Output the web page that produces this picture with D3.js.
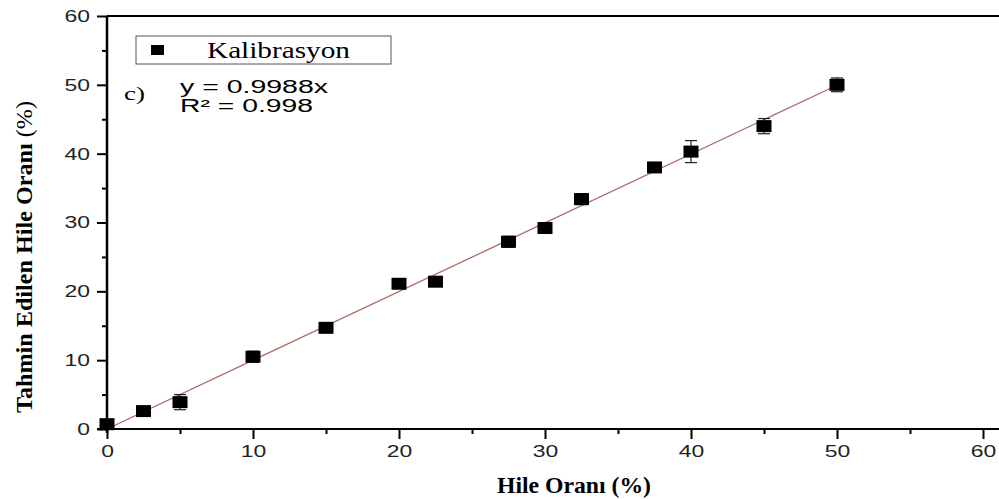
<!DOCTYPE html>
<html lang="tr">
<head>
<meta charset="utf-8">
<title>Kalibrasyon</title>
<script src="https://cdnjs.cloudflare.com/ajax/libs/d3/7.8.5/d3.min.js"></script>
<style>
  body { margin: 0; background: #fff; }
  .tick text { font-family: "Liberation Sans", Arial, sans-serif; font-size: 17px; fill: #222; }
  .axis path, .axis line { stroke: #000; }
  .serif { font-family: "Liberation Serif", "Times New Roman", serif; }
  .sans { font-family: "Liberation Sans", Arial, sans-serif; }
</style>
</head>
<body>
<svg width="999" height="499"></svg>
<script>
// data
var hile = [0, 2.5, 5, 10, 15, 20, 22.5, 27.5, 30, 32.5, 37.5, 40, 45, 50];
var tahmin = [0.7, 2.6, 3.9, 10.5, 14.7, 21.1, 21.4, 27.2, 29.2, 33.4, 38.0, 40.3, 44.0, 50.0];
var hata = [0.3, 0.3, 1.1, 0.8, 0.4, 0.3, 0.3, 0.8, 0.3, 0.8, 0.3, 1.6, 1.1, 1.0];
var xTicks = [0, 10, 20, 30, 40, 50, 60];
var yTicks = [0, 10, 20, 30, 40, 50, 60];
var slope = 0.9988;

// the original picture is stretched sideways, so text gets widened too
var stretch = 1.35;

var svg = d3.select("svg"),
    margin = {top: 16, right: 16, bottom: 70, left: 107},
    width = 983 - margin.left,
    height = 429 - margin.top;

var x = d3.scaleLinear().domain([0, 60]).range([0, width]),
    y = d3.scaleLinear().domain([0, 60]).range([height, 0]);

var g = svg.append("g")
    .attr("transform", "translate(" + margin.left + "," + margin.top + ")");

// frame (top line runs off to the right edge)
g.append("line").attr("x1", 0).attr("x2", 999 - margin.left)
  .attr("y1", 0).attr("y2", 0).attr("stroke", "#000").attr("stroke-width", 2);

// minor ticks
g.append("g")
  .attr("class", "axis")
  .attr("transform", "translate(0," + height + ")")
  .call(d3.axisBottom(x).tickValues(d3.range(5, 60, 10)).tickSize(5).tickFormat(""))
  .call(function(s) { s.select(".domain").remove(); })
  .selectAll("line").attr("stroke-width", 2);
g.append("g")
  .attr("class", "axis")
  .call(d3.axisLeft(y).tickValues(d3.range(5, 60, 10)).tickSize(5).tickFormat(""))
  .call(function(s) { s.select(".domain").remove(); })
  .selectAll("line").attr("stroke-width", 2);

// major axes
var xa = g.append("g")
  .attr("class", "axis")
  .attr("transform", "translate(0," + height + ")")
  .call(d3.axisBottom(x).tickValues(xTicks).tickSize(10).tickSizeOuter(0).tickPadding(6));
xa.select(".domain").attr("d", "M-10,0H" + (999 - margin.left)).attr("stroke-width", 2);
xa.selectAll("line").attr("stroke-width", 2);
xa.selectAll(".tick text").attr("transform", "scale(" + stretch + ",1)");

var ya = g.append("g")
  .attr("class", "axis")
  .call(d3.axisLeft(y).tickValues(yTicks).tickSize(10).tickSizeOuter(0).tickPadding(7));
ya.select(".domain").attr("d", "M0,0V" + (height + 4)).attr("stroke-width", 2.5);
ya.selectAll("line").attr("stroke-width", 2);
ya.selectAll(".tick text")
  .attr("x", -17 / stretch)
  .attr("transform", "scale(" + stretch + ",1)");

// trend line
g.append("line")
  .attr("x1", x(0)).attr("y1", y(0))
  .attr("x2", x(50)).attr("y2", y(50 * slope))
  .attr("stroke", "#b06a66").attr("stroke-width", 1.3);

var pts = hile.map(function(d, i) { return {x: d, y: tahmin[i], e: hata[i]}; });

// error bars
var eb = g.selectAll(".err").data(pts).enter().append("g").attr("class", "err")
  .attr("stroke", "#222").attr("stroke-width", 1.2);
eb.append("line")
  .attr("x1", function(d) { return x(d.x); }).attr("x2", function(d) { return x(d.x); })
  .attr("y1", function(d) { return y(d.y + d.e); }).attr("y2", function(d) { return y(d.y - d.e); });
eb.append("line")
  .attr("x1", function(d) { return x(d.x) - 6; }).attr("x2", function(d) { return x(d.x) + 6; })
  .attr("y1", function(d) { return y(d.y + d.e); }).attr("y2", function(d) { return y(d.y + d.e); });
eb.append("line")
  .attr("x1", function(d) { return x(d.x) - 6; }).attr("x2", function(d) { return x(d.x) + 6; })
  .attr("y1", function(d) { return y(d.y - d.e); }).attr("y2", function(d) { return y(d.y - d.e); });

// markers
g.selectAll(".pt").data(pts).enter().append("rect")
  .attr("class", "pt")
  .attr("x", function(d) { return x(d.x) - 7.5; })
  .attr("y", function(d) { return y(d.y) - 6; })
  .attr("width", 15).attr("height", 12)
  .attr("fill", "#000");

// legend
svg.append("rect").attr("x", 136).attr("y", 36).attr("width", 255).attr("height", 28)
  .attr("fill", "#fff").attr("stroke", "#555").attr("stroke-width", 1);
svg.append("rect").attr("x", 151).attr("y", 45).attr("width", 13).attr("height", 10).attr("fill", "#000");
svg.append("text").attr("class", "serif").attr("x", 207).attr("y", 58)
  .attr("textLength", 143).attr("lengthAdjust", "spacingAndGlyphs")
  .style("font-size", "23px")
  .text("Kalibrasyon");

svg.append("text").attr("class", "serif").attr("x", 124).attr("y", 100)
  .attr("textLength", 21).attr("lengthAdjust", "spacingAndGlyphs")
  .style("font-size", "19px")
  .text("c)");
svg.append("text").attr("class", "sans").attr("x", 180).attr("y", 93)
  .attr("textLength", 148).attr("lengthAdjust", "spacingAndGlyphs")
  .style("font-size", "18px")
  .text("y = 0.9988x");
svg.append("text").attr("class", "sans").attr("x", 180).attr("y", 112)
  .attr("textLength", 133).attr("lengthAdjust", "spacingAndGlyphs")
  .style("font-size", "18px")
  .text("R² = 0.998");

// axis titles
var yt = svg.append("text").attr("class", "serif")
  .attr("transform", "translate(32,257) rotate(-90)")
  .attr("textLength", 312).attr("lengthAdjust", "spacingAndGlyphs")
  .style("text-anchor", "middle")
  .style("font-size", "24px");
yt.append("tspan").style("font-weight", "bold").text("Tahmin Edilen Hile Oranı ");
yt.append("tspan").text("(%)");

svg.append("text").attr("class", "serif")
  .attr("x", 497).attr("y", 493)
  .attr("textLength", 154).attr("lengthAdjust", "spacingAndGlyphs")
  .style("font-size", "24px")
  .style("font-weight", "bold")
  .text("Hile Oranı (%)");
</script>
</body>
</html>
